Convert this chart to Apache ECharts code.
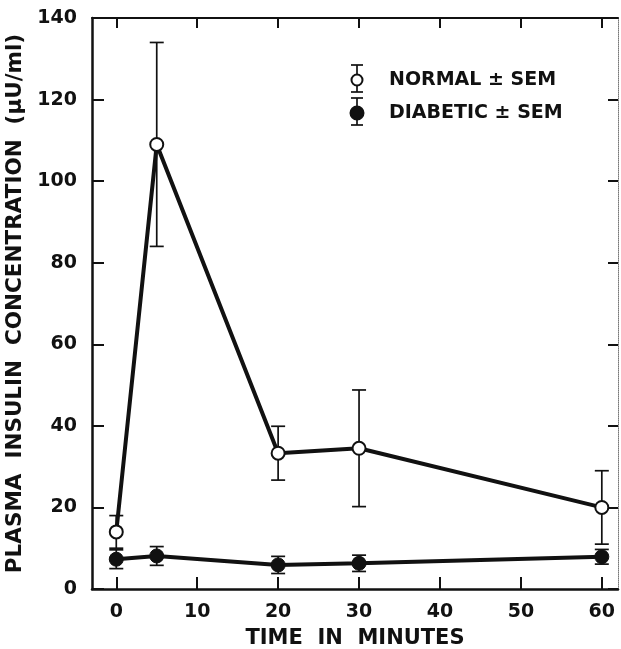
<!DOCTYPE html>
<html>
<head>
<meta charset="utf-8">
<script src="https://cdn.jsdelivr.net/npm/echarts@6/dist/echarts.min.js"></script>
<style>
  html, body { margin: 0; padding: 0; background: #fff; }
  #root { width: 621px; height: 649px; }
</style>
</head>
<body>
<div id="root"></div>
<script>
// Time points (minutes)
var times = [0, 5, 20, 30, 60];
// Normal subjects: mean and SEM (µU/ml)
var normalMean = [14, 109, 33.3, 34.5, 20];
var normalSem = [4, 25, 6.6, 14.3, 9];
// Diabetic subjects: mean and SEM
var diabeticMean = [7.3, 8.1, 5.9, 6.3, 7.9];
var diabeticSem = [2.3, 2.3, 2.1, 2, 1.8];
// Tick labels
var xTicks = [0, 10, 20, 30, 40, 50, 60];

var FONT = 'DejaVu Sans';
var INK = '#111';

function points(mean) {
  return times.map(function (t, i) { return [t, mean[i]]; });
}
function bars(mean, sem) {
  return times.map(function (t, i) { return [t, mean[i] - sem[i], mean[i] + sem[i]]; });
}

// Draws one vertical error bar with caps through the axis scales
function errorBar(params, api) {
  var lo = api.coord([api.value(0), api.value(1)]);
  var hi = api.coord([api.value(0), api.value(2)]);
  var w = 7;
  var style = { stroke: INK, lineWidth: 1.7 };
  return {
    type: 'group',
    children: [
      { type: 'line', shape: { x1: lo[0], y1: lo[1], x2: hi[0], y2: hi[1] }, style: style },
      { type: 'line', shape: { x1: lo[0] - w, y1: lo[1], x2: lo[0] + w, y2: lo[1] }, style: style },
      { type: 'line', shape: { x1: hi[0] - w, y1: hi[1], x2: hi[0] + w, y2: hi[1] }, style: style }
    ]
  };
}

var chart = echarts.init(document.getElementById('root'), null, { renderer: 'canvas' });

var xBase = { type: 'value', min: -3, max: 62, splitLine: { show: false } };
var yBase = { type: 'value', min: 0, max: 140, interval: 20, splitLine: { show: false } };

// Legend built from plain shapes, placed at top right like the original
function legendItem(y, filled, label) {
  var x = 357, cap = 6;
  var ink = { stroke: INK, lineWidth: 1.7 };
  return [
    { type: 'line', shape: { x1: x, y1: y - 15, x2: x, y2: y + 12 }, style: ink, z: 10 },
    { type: 'line', shape: { x1: x - cap, y1: y - 15, x2: x + cap, y2: y - 15 }, style: ink, z: 10 },
    { type: 'line', shape: { x1: x - cap, y1: y + 12, x2: x + cap, y2: y + 12 }, style: ink, z: 10 },
    { type: 'circle', shape: { cx: x, cy: y, r: filled ? 6.5 : 5.5 },
      style: { fill: filled ? INK : '#fff', stroke: INK, lineWidth: 2 }, z: 11 },
    { type: 'text', x: 389, y: y, z: 10,
      style: { text: label, font: 'bold 19px "' + FONT + '"', fill: INK, verticalAlign: 'middle' } }
  ];
}

var option = {
  backgroundColor: '#ffffff',
  animation: false,
  grid: { left: 92, right: 3, top: 18, bottom: 60, outerBoundsMode: 'none', containLabel: false },
  xAxis: [
    Object.assign({}, xBase, {
      position: 'bottom',
      name: 'TIME  IN  MINUTES',
      nameLocation: 'middle',
      nameGap: 39,
      nameTextStyle: { fontFamily: FONT, fontWeight: 'bold', fontSize: 21, color: INK },
      axisLine: { show: true, onZero: false, lineStyle: { color: INK, width: 2.5 } },
      axisTick: { show: true, inside: true, length: 12, customValues: xTicks,
                  lineStyle: { color: INK, width: 2 } },
      axisLabel: { customValues: xTicks, margin: 14, fontFamily: FONT, fontWeight: 'bold',
                   fontSize: 19, color: INK }
    }),
    Object.assign({}, xBase, {
      position: 'top',
      axisLine: { show: true, onZero: false, lineStyle: { color: INK, width: 2 } },
      axisTick: { show: true, inside: true, length: 10, customValues: xTicks,
                  lineStyle: { color: INK, width: 2 } },
      axisLabel: { show: false }
    })
  ],
  yAxis: [
    Object.assign({}, yBase, {
      position: 'left',
      name: 'PLASMA  INSULIN  CONCENTRATION  (μU/ml)',
      nameLocation: 'middle',
      nameGap: 63,
      nameTextStyle: { fontFamily: FONT, fontWeight: 'bold', fontSize: 21.5, color: INK },
      axisLine: { show: true, onZero: false, lineStyle: { color: INK, width: 2.5 } },
      axisTick: { show: true, inside: true, length: 12, lineStyle: { color: INK, width: 2 } },
      axisLabel: { margin: 15, fontFamily: FONT, fontWeight: 'bold', fontSize: 19, color: INK }
    }),
    Object.assign({}, yBase, {
      position: 'right',
      axisLine: { show: true, onZero: false, lineStyle: { color: '#777', width: 1, type: 'dotted' } },
      axisTick: { show: true, inside: true, length: 10, lineStyle: { color: INK, width: 2 } },
      axisLabel: { show: false }
    })
  ],
  series: [
    {
      name: 'Normal SEM', type: 'custom', renderItem: errorBar,
      data: bars(normalMean, normalSem), z: 2, silent: true
    },
    {
      name: 'Diabetic SEM', type: 'custom', renderItem: errorBar,
      data: bars(diabeticMean, diabeticSem), z: 2, silent: true
    },
    {
      name: 'NORMAL ± SEM', type: 'line', data: points(normalMean),
      lineStyle: { color: INK, width: 4 },
      symbol: 'circle', symbolSize: 13,
      itemStyle: { color: '#fff', borderColor: INK, borderWidth: 2 },
      z: 3
    },
    {
      name: 'DIABETIC ± SEM', type: 'line', data: points(diabeticMean),
      lineStyle: { color: INK, width: 4 },
      symbol: 'circle', symbolSize: 14,
      itemStyle: { color: INK, borderColor: INK, borderWidth: 1 },
      z: 3
    }
  ],
  graphic: legendItem(80, false, 'NORMAL ± SEM').concat(legendItem(113, true, 'DIABETIC ± SEM'))
};

chart.setOption(option);
</script>
</body>
</html>
